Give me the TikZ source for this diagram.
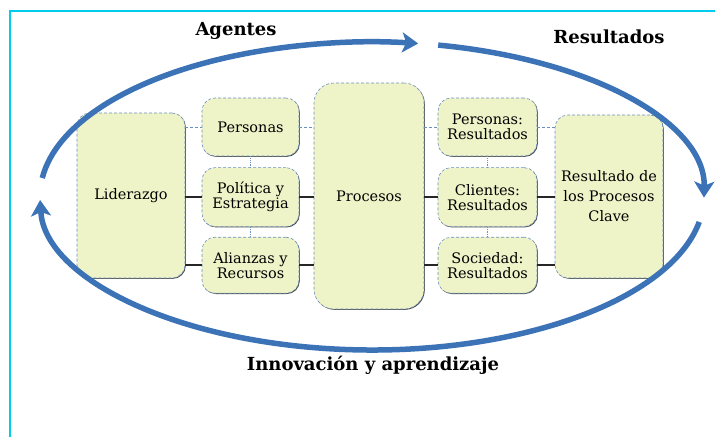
\documentclass[tikz,border=0pt]{standalone}
\usepackage{fontspec}
\setmainfont{DejaVu Serif}
\usetikzlibrary{arrows.meta,calc,positioning,shadows}
\definecolor{cellfill}{HTML}{EFF3C8}
\definecolor{cellline}{HTML}{6B8FBF}
\definecolor{cycleblue}{HTML}{3B73B6}
\definecolor{framecyan}{HTML}{00CCEE}

\begin{document}
\begin{tikzpicture}[x=1pt, y=-1pt,
  cell/.style={draw=cellline, densely dashed, line width=.6pt, fill=cellfill,
    rounded corners=13pt, align=center, inner sep=1pt,
    font=\fontsize{14.5}{15}\selectfont,
    drop shadow={shadow xshift=.8pt, shadow yshift=-.8pt, fill=black!70, opacity=1}},
  title/.style={font=\bfseries\fontsize{18}{20}\selectfont},
  dash link/.style={draw=cellline, densely dashed, line width=.8pt},
  dot link/.style={draw=cellline, densely dotted, line width=.8pt},
  solid link/.style={draw=black!85, line width=1.6pt},
  cycle/.style={draw=cycleblue, line width=5.5pt, -{Stealth[length=16pt, width=20pt, inset=4pt]}}]
\newcommand{\cbox}[1][]{\node [cell, #1]}
\useasboundingbox (0,0) rectangle (715,437);
\draw [framecyan, line width=2pt] (10,437) -- (10,11) -- (715,11);

% agentes
\cbox [minimum width=108pt, minimum height=165pt] (L) at (131,195.5) {Liderazgo};
\cbox [minimum width=97pt, minimum height=58pt] (A1) at (250.5,127) {Personas};
\cbox [minimum width=97pt, minimum height=59pt, below=11pt of A1] (A2) {Política y\\Estrategia};
\cbox [minimum width=97pt, minimum height=56pt, below=10pt of A2] (A3) {Alianzas y\\Recursos};
\cbox [minimum width=110pt, minimum height=226pt, rounded corners=20pt] (P) at (369,196) {Procesos};

% resultados
\cbox [minimum width=99pt, minimum height=58pt] (R1) at (487.5,127) {Personas:\\Resultados};
\cbox [minimum width=99pt, minimum height=59pt, below=11pt of R1] (R2) {Clientes:\\Resultados};
\cbox [minimum width=99pt, minimum height=56pt, below=10pt of R2] (R3) {Sociedad:\\Resultados};
\cbox [minimum width=108pt, minimum height=163pt, font=\fontsize{14.5}{20}\selectfont] (K) at (609,196.5) {Resultado de\\los Procesos\\Clave};

\draw [dash link] (L.east |- A1) -- (A1.west);
\draw [dash link] (A1.east) -- (P.west |- A1);
\draw [dash link] (P.east |- R1) -- (R1.west);
\draw [dash link] (R1.east) -- (K.west |- R1);
\foreach \n in {2,3} {
  \draw [solid link] (L.east |- A\n) -- (A\n.west);
  \draw [solid link] (A\n.east) -- (P.west |- A\n);
  \draw [solid link] (P.east |- R\n) -- (R\n.west);
  \draw [solid link] (R\n.east) -- (K.west |- R\n);
}
\draw [dot link] (A1) -- (A2);
\draw [dot link] (A2) -- (A3);
\draw [dot link] (R1) -- (R2);
\draw [dot link] (R2) -- (R3);

% ciclo
\coordinate (O) at (372,196);
\draw [cycle] (O) ++(186.7:332 and 154) arc [start angle=186.7, end angle=278, x radius=332, y radius=154];
\draw [cycle] (O) ++(281.5:332 and 154) arc [start angle=281.5, end angle=360.6, x radius=332, y radius=154];
\draw [cycle] (O) ++(9.7:332 and 154) arc [start angle=9.7, end angle=178.5, x radius=332, y radius=154];

\node [title] (ag) at (236,31) {Agentes};
\node [title] (res) at (609,37) {Resultados};
\node [title] (inn) at (373,365) {Innovación y aprendizaje};
\end{tikzpicture}
\end{document}
